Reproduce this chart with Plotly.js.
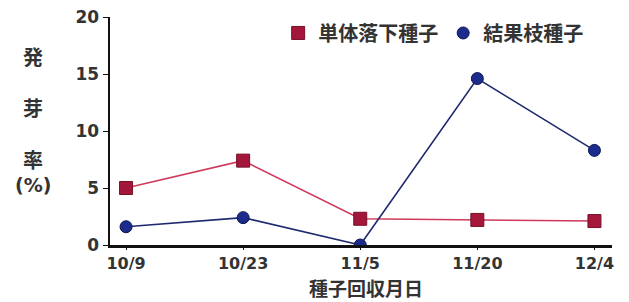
<!DOCTYPE html>
<html><head><meta charset="utf-8">
<script src="https://cdn.plot.ly/plotly-3.0.1.min.js"></script>
<style>html,body{margin:0;padding:0;background:#fff;}#c{width:629px;height:302px;}</style>
</head><body><div id="c"></div>
<script>
const dates = ["10/9","10/23","11/5","11/20","12/4"];
const singleFall = [5.0, 7.4, 2.3, 2.2, 2.1];
const fruitBranch = [1.6, 2.4, 0.0, 14.6, 8.3];
const seriesNames = ["単体落下種子","結果枝種子"];
const yTicks = [0,5,10,15,20];
const yTitleChars = ["発","芽","率","(%)"];
const xTitle = "種子回収月日";

const fnt = "'DejaVu Sans', sans-serif";
const cjk = "'Noto Sans CJK JP', sans-serif";
const idx = dates.map((d,i)=>i);

const redLine = "#cf3a5a", redMark = "#a3173a";
const blueLine = "#1f2a6e", blueMark = "#1c2c8c";

const traces = [
  {x: idx, y: singleFall, name: seriesNames[0], mode: "lines", type: "scatter", showlegend: false,
   line: {color: redLine, width: 1.6}},
  {x: idx, y: fruitBranch, name: seriesNames[1], mode: "lines", type: "scatter", showlegend: false,
   line: {color: blueLine, width: 1.6}},
  {x: idx, y: singleFall, name: seriesNames[0], mode: "markers", type: "scatter",
   marker: {symbol: "square", size: 13, color: redMark, line: {color: "#7a0f2a", width: 1}}},
  {x: idx, y: fruitBranch, name: seriesNames[1], mode: "markers", type: "scatter",
   marker: {symbol: "circle", size: 12, color: blueMark, line: {color: "#0d1550", width: 1}}}
];

const ann = [];
const ys = [0.825, 0.601, 0.373, 0.263];
yTitleChars.forEach((c,i)=>{
  ann.push({text: "<b>"+c+"</b>", xref: "paper", yref: "paper", x: -0.153, y: ys[i],
    showarrow: false, xanchor: "center", yanchor: "middle",
    font: {family: i===3 ? fnt : cjk, size: i===3 ? 19 : 20, color: "#333"}});
});
ann.push({text: "<b>"+xTitle+"</b>", xref: "paper", yref: "paper", x: 0.51, y: -0.248,
  showarrow: false, xanchor: "center", yanchor: "bottom", borderpad: 0,
  font: {family: cjk, size: 19, color: "#333"}});

const layout = {
  width: 629, height: 302,
  margin: {l: 110, r: 17, t: 17, b: 57},
  paper_bgcolor: "#fff", plot_bgcolor: "#fff",
  showlegend: true,
  legend: {orientation: "h", x: 0.335, y: 0.93, xanchor: "left", yanchor: "middle",
    font: {family: cjk, size: 20, color: "#333", weight: "bold"}, bgcolor: "rgba(0,0,0,0)",
    itemwidth: 30, tracegroupgap: 0},
  xaxis: {
    range: [-0.137, 4.15], tickmode: "array", tickvals: idx, ticktext: dates.map(d=>"<b>"+d+"</b>"),
    showgrid: false, zeroline: false, showline: true, linecolor: "#111", linewidth: 2.5,
    ticks: "outside", ticklen: 2, tickcolor: "#111",
    tickfont: {family: fnt, size: 16, color: "#333"}
  },
  yaxis: {
    range: [0, 20], tickmode: "array", tickvals: yTicks, ticktext: yTicks.map(v=>"<b>"+v+"</b>"),
    showgrid: false, zeroline: false, showline: true, linecolor: "#111", linewidth: 2.5,
    ticks: "outside", ticklen: 5, tickcolor: "#111",
    tickfont: {family: fnt, size: 17, color: "#333"}
  },
  annotations: ann
};
Plotly.newPlot("c", traces, layout, {displayModeBar: false, staticPlot: true});
</script></body></html>
